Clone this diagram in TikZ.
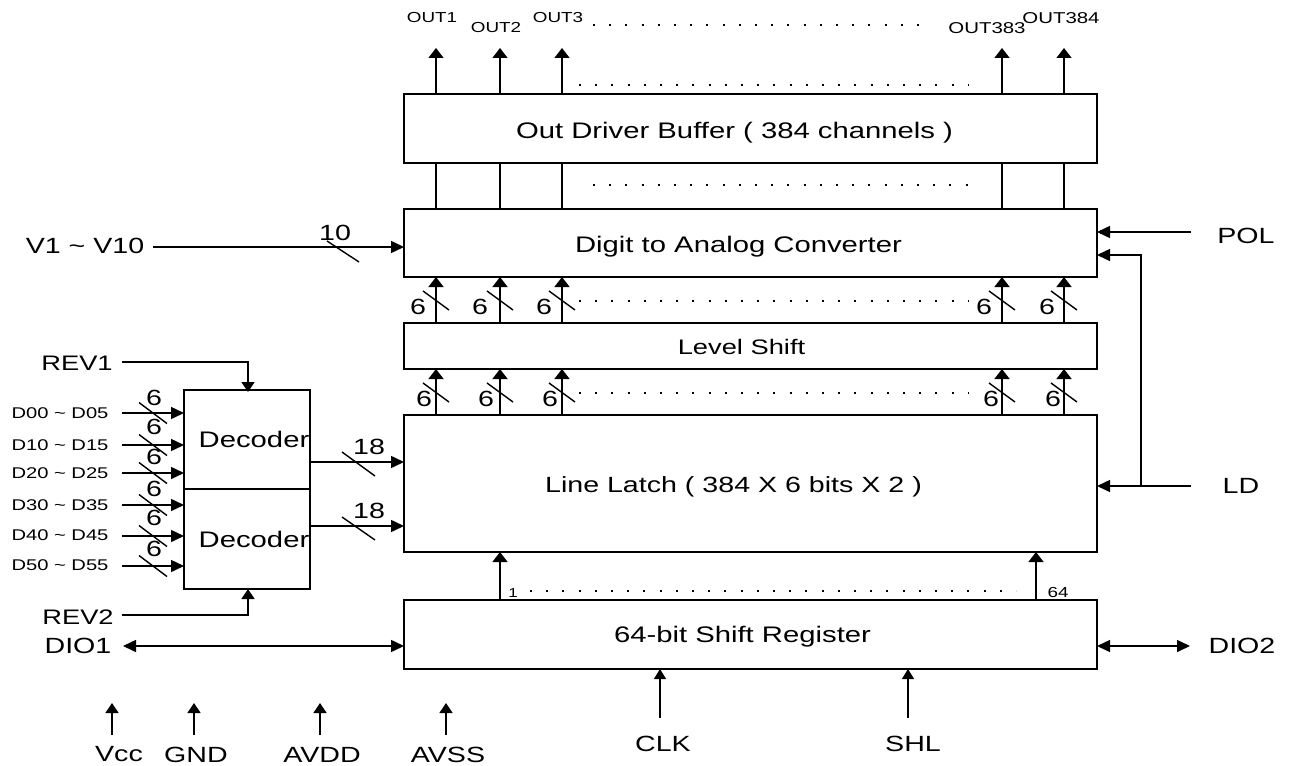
\documentclass[tikz,border=0pt]{standalone}
\usepackage{fontspec}
\setmainfont[FakeStretch=1.3]{Liberation Sans}
\usetikzlibrary{arrows.meta,calc}
\newcommand{\tx}[3]{\hspace*{#1pt}\hspace*{#1pt}\raisebox{-#2pt}[10pt][0pt]{#3}}
\tikzset{
  x=1pt,y=-1pt,
  every node/.style={inner sep=0pt,outer sep=0pt},
  wire/.style={line width=1.5pt,line cap=butt},
  sig/.style={wire,-{Triangle[length=10pt,width=15pt]}},
  sigs/.style={wire,-{Triangle[length=10pt,width=13pt]}},
  hsig/.style={wire,-{Triangle[length=13pt,width=12pt]}},
  both/.style={wire,{Triangle[length=13pt,width=12pt]}-{Triangle[length=13pt,width=12pt]}},
  thin1/.style={line width=1.2pt,-{Triangle[length=10pt,width=12pt]}},
  dots/.style={line width=1.6pt,dash pattern=on 2pt off 14.2pt},
  slash/.style={line width=1.4pt},
  blk/.style={draw,line width=1.6pt,anchor=north west,font=\fontsize{22.5}{26}\selectfont},
  pin/.style={font=\fontsize{22}{26}\selectfont},
  pinr/.style={font=\fontsize{21}{24}\selectfont},
  small/.style={font=\fontsize{14.5}{17}\selectfont},
  smallb/.style={font=\fontsize{15.7}{18}\selectfont},
  data/.style={font=\fontsize{15.5}{18}\selectfont},
  num/.style={font=\fontsize{22}{25}\selectfont},
}
\begin{document}
\begin{tikzpicture}
\useasboundingbox (0,0) rectangle (1289,765);
% blocks
\node[blk,minimum width=693pt,minimum height=69pt] (obuf) at (404,94) {\tx{-16}{4.5}{Out Driver Buffer ( 384 channels )}};
\node[blk,minimum width=693pt,minimum height=68pt] (dac) at (404,209) {\tx{-12}{4}{Digit to Analog Converter}};
\node[blk,minimum width=693pt,minimum height=46pt] (lvl) at (404,323) {\tx{-9}{3}{\fontsize{21}{24}\selectfont Level Shift}};
\node[blk,minimum width=693pt,minimum height=137pt] (latch) at (404,415) {\tx{-17}{3.5}{\fontsize{22}{26}\selectfont Line Latch ( 384 X 6 bits X 2 )}};
\node[blk,minimum width=693pt,minimum height=69pt] (sr) at (404,600) {\tx{-8}{2.5}{64-bit Shift Register}};
\node[blk,minimum width=126pt,minimum height=99pt] (dec1) at (184,390) {\tx{7}{2.5}{Decoder}};
\node[blk,minimum width=126pt,minimum height=100pt] (dec2) at (184,489) {\tx{7}{3}{Decoder}};
% column coordinates
\coordinate (c1) at (436,0);
\coordinate (c2) at (500,0);
\coordinate (c3) at (562,0);
\coordinate (c4) at (1002,0);
\coordinate (c5) at (1064,0);
\coordinate (s1) at (500,0);
\coordinate (s2) at (1036,0);
% outputs
\node[small] (o1) at (432,18) {OUT1};
\node[small] (o2) at (496,28) {OUT2};
\node[small] (o3) at (558,18) {OUT3};
\node[smallb] (o383) at (987,28) {OUT383};
\node[smallb] (o384) at (1061,18) {OUT384};
\foreach \c in {c1,c2,c3,c4,c5}{
  \coordinate (top\c) at (\c |- 0,48);
  \draw[sig] (obuf.north -| \c) -- (top\c);
  \draw[wire] (dac.north -| \c) -- (obuf.south -| \c);
  \draw[sig] (lvl.north -| \c) -- (dac.south -| \c);
  \draw[sig] (latch.north -| \c) -- (lvl.south -| \c);
  \draw[slash] ($(\c |- 0,300.5)+(-13,-9.5)$) -- ($(\c |- 0,300.5)+(13,9.5)$);
  \draw[slash] ($(\c |- 0,392.5)+(-13,-9.5)$) -- ($(\c |- 0,392.5)+(13,9.5)$);
}
\foreach \n/\a/\b in {1/418/424,2/480/486,3/544/550,4/984/991,5/1047/1053}{
  \node[num] (u\n) at (\a,307) {6};
  \node[num] (l\n) at (\b,399) {6};
}
% dotted rows
\draw[dots] (593,25) -- (932,25);
\draw[dots] (579,85) -- (968,85);
\draw[dots] (593,185) -- (981,185);
\draw[dots] (579,301) -- (968,301);
\draw[dots] (579,393) -- (968,393);
\draw[dots] (530,591) -- (1016,591);
% shift register to latch
\draw[sig] (sr.north -| s1) -- (latch.south -| s1);
\draw[sig] (sr.north -| s2) -- (latch.south -| s2);
\node[font=\fontsize{13}{15}\selectfont] (n1) at (513,593) {1};
\node[font=\fontsize{14.5}{16}\selectfont] (n64) at (1058,593) {64};
% V1-V10
\node[pin] (v) at (85,246) {V1 \textasciitilde{} V10};
\coordinate (vs) at (153,247);
\draw[hsig] (vs) -- (vs -| dac.west);
\draw[slash] (327,241) -- (359,262);
\node[num] (n10) at (335,233) {10};
% POL, LD
\node[pin] (pol) at (1246,236) {POL};
\node[pin] (ld) at (1241,486) {LD};
\coordinate (pols) at (1191,232);
\coordinate (lds) at (1191,486);
\coordinate (ldj) at (1141,486);
\coordinate (ldt) at (1141,255);
\draw[hsig] (pols) -- (pols -| dac.east);
\draw[hsig] (lds) -- (lds -| latch.east);
\draw[hsig] (ldj) -- (ldt) -- (ldt -| dac.east);
% DIO
\node[pin] (d1) at (78,646) {DIO1};
\node[pin] (d2) at (1242,646) {DIO2};
\coordinate (d1s) at (123,646);
\coordinate (d2s) at (1190,646);
\draw[both] (d1s) -- (d1s -| sr.west);
\draw[both] (d2s -| sr.east) -- (d2s);
% bottom
\node[pin] (clk) at (663,744) {CLK};
\node[pin] (shl) at (913,744) {SHL};
\coordinate (clks) at (660,718);
\coordinate (shls) at (908,718);
\draw[thin1] (clks) -- (clks |- sr.south);
\draw[thin1] (shls) -- (shls |- sr.south);
\foreach \n/\x/\tx/\lab in {vcc/112/119/Vcc,gnd/194/196/GND,avdd/320/322/AVDD,avss/446/448/AVSS}{
  \node[pin] (\n) at (\tx,754.5) {\lab};
  \coordinate (\n a) at (\x,735);
  \coordinate (\n b) at (\x,703);
  \draw[sigs] (\n a) -- (\n b);
}
% REV
\node[pinr] (r1) at (77,363) {REV1};
\node[pinr] (r2) at (78,617) {REV2};
\coordinate (r1s) at (122,362);
\coordinate (r2s) at (122,615);
\coordinate (dtop) at (248,390);
\coordinate (dbot) at (248,589);
\draw[sigs] (r1s) -- (dtop |- r1s) -- ($(dtop)+(0,2)$);
\draw[sigs] (r2s) -- (dbot |- r2s) -- (dbot);
% data inputs
\foreach \n/\y/\t/\yt/\ys in {a/413/D00 \textasciitilde{} D05/413/398,b/445/D10 \textasciitilde{} D15/445/427,c/473/D20 \textasciitilde{} D25/473/457,d/505/D30 \textasciitilde{} D35/505/489,e/536/D40 \textasciitilde{} D45/535/518,f/566/D50 \textasciitilde{} D55/565/549}{
  \node[data] (t\n) at (60,\yt) {\t};
  \coordinate (i\n) at (122,\y);
  \draw[hsig] (i\n) -- (184,\y);
  \draw[slash] (139,\y-10.5) -- (167,\y+10.5);
  \node[num] (k\n) at (154,\ys) {6};
}
% decoder outputs
\coordinate (q1) at (310,462);
\coordinate (q2) at (310,526);
\draw[hsig] (q1) -- (q1 -| latch.west);
\draw[hsig] (q2) -- (q2 -| latch.west);
\draw[slash] (342,452) -- (375,476);
\draw[slash] (342,517) -- (375,540);
\node[num] (e1) at (369,447) {18};
\node[num] (e2) at (369,511) {18};
\end{tikzpicture}
\end{document}
